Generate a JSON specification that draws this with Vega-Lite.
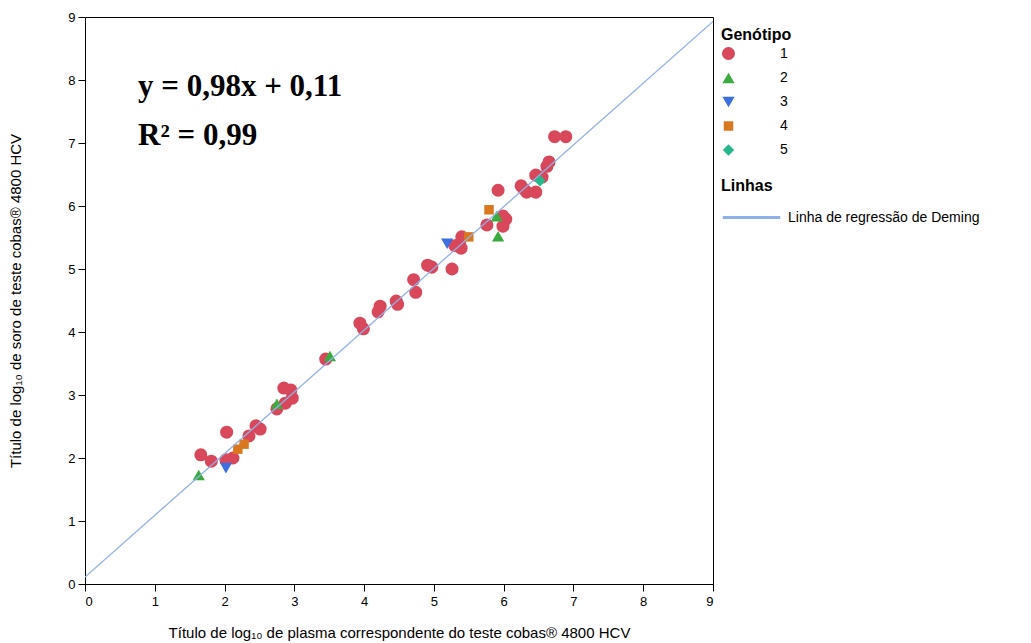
{
  "$schema": "https://vega.github.io/schema/vega-lite/v6.json",
  "width": 628,
  "height": 567,
  "padding": {"left": 8, "top": 11, "right": 5, "bottom": 5},
  "config": {
    "font": "Liberation Sans",
    "view": {"stroke": "#000", "strokeWidth": 1},
    "axis": {"grid": false, "domainColor": "#000", "tickColor": "#000", "labelColor": "#000", "titleColor": "#000", "labelFontSize": 13, "titleFontSize": 15, "titleFontWeight": "normal", "labelFont": "Liberation Sans", "titleFont": "Liberation Sans"},
    "legend": {"titleFontSize": 16, "titleFontWeight": "bold", "titleColor": "#000", "labelColor": "#000", "labelFontSize": 14, "labelFont": "Liberation Sans", "titleFont": "Liberation Sans", "labelLimit": 400}
  },
  "datasets": {
    "pontos": [
      {"plasma": 1.66, "soro": 2.05, "genotipo": "1"},
      {"plasma": 1.81, "soro": 1.95, "genotipo": "1"},
      {"plasma": 2.03, "soro": 2.41, "genotipo": "1"},
      {"plasma": 2.02, "soro": 1.97, "genotipo": "1"},
      {"plasma": 2.12, "soro": 2.0, "genotipo": "1"},
      {"plasma": 2.35, "soro": 2.35, "genotipo": "1"},
      {"plasma": 2.45, "soro": 2.51, "genotipo": "1"},
      {"plasma": 2.51, "soro": 2.46, "genotipo": "1"},
      {"plasma": 2.75, "soro": 2.78, "genotipo": "1"},
      {"plasma": 2.85, "soro": 3.11, "genotipo": "1"},
      {"plasma": 2.95, "soro": 3.08, "genotipo": "1"},
      {"plasma": 2.87, "soro": 2.87, "genotipo": "1"},
      {"plasma": 2.97, "soro": 2.95, "genotipo": "1"},
      {"plasma": 3.45, "soro": 3.57, "genotipo": "1"},
      {"plasma": 3.94, "soro": 4.14, "genotipo": "1"},
      {"plasma": 3.99, "soro": 4.05, "genotipo": "1"},
      {"plasma": 4.2, "soro": 4.32, "genotipo": "1"},
      {"plasma": 4.23, "soro": 4.41, "genotipo": "1"},
      {"plasma": 4.46, "soro": 4.49, "genotipo": "1"},
      {"plasma": 4.48, "soro": 4.44, "genotipo": "1"},
      {"plasma": 4.71, "soro": 4.83, "genotipo": "1"},
      {"plasma": 4.74, "soro": 4.63, "genotipo": "1"},
      {"plasma": 4.91, "soro": 5.06, "genotipo": "1"},
      {"plasma": 4.97, "soro": 5.03, "genotipo": "1"},
      {"plasma": 5.26, "soro": 5.0, "genotipo": "1"},
      {"plasma": 5.3, "soro": 5.37, "genotipo": "1"},
      {"plasma": 5.37, "soro": 5.4, "genotipo": "1"},
      {"plasma": 5.39, "soro": 5.33, "genotipo": "1"},
      {"plasma": 5.4, "soro": 5.51, "genotipo": "1"},
      {"plasma": 5.76, "soro": 5.7, "genotipo": "1"},
      {"plasma": 5.92, "soro": 6.25, "genotipo": "1"},
      {"plasma": 5.99, "soro": 5.84, "genotipo": "1"},
      {"plasma": 6.03, "soro": 5.79, "genotipo": "1"},
      {"plasma": 5.99, "soro": 5.68, "genotipo": "1"},
      {"plasma": 6.25, "soro": 6.32, "genotipo": "1"},
      {"plasma": 6.29, "soro": 6.27, "genotipo": "1"},
      {"plasma": 6.33, "soro": 6.22, "genotipo": "1"},
      {"plasma": 6.46, "soro": 6.22, "genotipo": "1"},
      {"plasma": 6.46, "soro": 6.49, "genotipo": "1"},
      {"plasma": 6.55, "soro": 6.46, "genotipo": "1"},
      {"plasma": 6.62, "soro": 6.63, "genotipo": "1"},
      {"plasma": 6.65, "soro": 6.7, "genotipo": "1"},
      {"plasma": 6.73, "soro": 7.1, "genotipo": "1"},
      {"plasma": 6.89, "soro": 7.1, "genotipo": "1"},
      {"plasma": 1.63, "soro": 1.73, "genotipo": "2"},
      {"plasma": 2.75, "soro": 2.86, "genotipo": "2"},
      {"plasma": 3.51, "soro": 3.62, "genotipo": "2"},
      {"plasma": 5.9, "soro": 5.84, "genotipo": "2"},
      {"plasma": 5.92, "soro": 5.52, "genotipo": "2"},
      {"plasma": 2.02, "soro": 1.84, "genotipo": "3"},
      {"plasma": 5.19, "soro": 5.4, "genotipo": "3"},
      {"plasma": 2.19, "soro": 2.14, "genotipo": "4"},
      {"plasma": 2.28, "soro": 2.22, "genotipo": "4"},
      {"plasma": 5.5, "soro": 5.51, "genotipo": "4"},
      {"plasma": 5.79, "soro": 5.94, "genotipo": "4"},
      {"plasma": 6.52, "soro": 6.4, "genotipo": "5"}
    ],
    "regressao": [
      {"plasma": 0, "soro": 0.11, "serie": "Linha de regressão de Deming"},
      {"plasma": 9, "soro": 8.93, "serie": "Linha de regressão de Deming"}
    ],
    "anotacoes": [
      {"plasma": 0.76, "soro": 7.75, "texto": "y = 0,98x + 0,11"},
      {"plasma": 0.76, "soro": 6.97, "texto": "R² = 0,99"}
    ]
  },
  "encoding": {
    "x": {
      "field": "plasma", "type": "quantitative",
      "scale": {"domain": [0, 9], "nice": false, "zero": false},
      "axis": {
        "title": "Título de log₁₀ de plasma correspondente do teste cobas® 4800 HCV",
        "values": [0, 0.5, 1, 1.5, 2, 2.5, 3, 3.5, 4, 4.5, 5, 5.5, 6, 6.5, 7, 7.5, 8, 8.5, 9],
        "format": "d",
        "labelExpr": "datum.value % 1 === 0 ? datum.label : ''",
        "tickSize": {"condition": {"test": "datum.value % 1 === 0", "value": 7}, "value": 4},
        "labelPadding": 4,
        "titlePadding": 17
      }
    },
    "y": {
      "field": "soro", "type": "quantitative",
      "scale": {"domain": [0, 9], "nice": false, "zero": false},
      "axis": {
        "title": "Título de log₁₀ de soro de teste cobas® 4800 HCV",
        "values": [0, 1, 2, 3, 4, 5, 6, 7, 8, 9],
        "tickSize": 7,
        "labelPadding": 3,
        "titlePadding": 44
      }
    }
  },
  "layer": [
    {
      "data": {"name": "pontos"},
      "mark": {"type": "point", "filled": true, "opacity": 1},
      "encoding": {
        "color": {
          "field": "genotipo", "type": "nominal",
          "scale": {"domain": ["1", "2", "3", "4", "5"], "range": ["#d9475a", "#3bab3f", "#3d6fe0", "#d9781f", "#25b88c"]},
          "legend": {"title": "Genótipo", "orient": "none", "legendX": 636, "legendY": 10, "labelOffset": 44, "rowPadding": 10, "titlePadding": 3, "symbolSize": 170, "encode": {"symbols": {"update": {"size": {"value": 170}}}}}
        },
        "shape": {
          "field": "genotipo", "type": "nominal",
          "scale": {"domain": ["1", "2", "3", "4", "5"], "range": ["circle", "triangle-up", "triangle-down", "square", "diamond"]},
          "legend": {"title": "Genótipo", "orient": "none", "legendX": 636, "legendY": 10, "labelOffset": 44, "rowPadding": 10, "titlePadding": 3, "symbolSize": 170, "encode": {"symbols": {"update": {"size": {"value": 170}}}}}
        },
        "size": {
          "field": "genotipo", "type": "nominal",
          "scale": {"type": "ordinal", "domain": ["1", "2", "3", "4", "5"], "range": [170, 150, 150, 90, 130]},
          "legend": null
        }
      }
    },
    {
      "data": {"name": "regressao"},
      "mark": {"type": "line", "strokeWidth": 1.3, "clip": true},
      "encoding": {
        "stroke": {
          "field": "serie", "type": "nominal",
          "scale": {"range": ["#8fb1ea"]},
          "legend": {"title": "Linhas", "orient": "none", "legendX": 636, "legendY": 161, "titlePadding": -7, "symbolSize": 3300, "symbolStrokeWidth": 3, "labelOffset": 6, "symbolStrokeColor": "#a9c8ea"}
        }
      }
    },
    {
      "data": {"name": "anotacoes"},
      "mark": {"type": "text", "align": "left", "baseline": "alphabetic", "font": "Liberation Serif", "fontWeight": "bold", "fontSize": 31, "color": "#000"},
      "encoding": {"text": {"field": "texto"}}
    }
  ]
}
